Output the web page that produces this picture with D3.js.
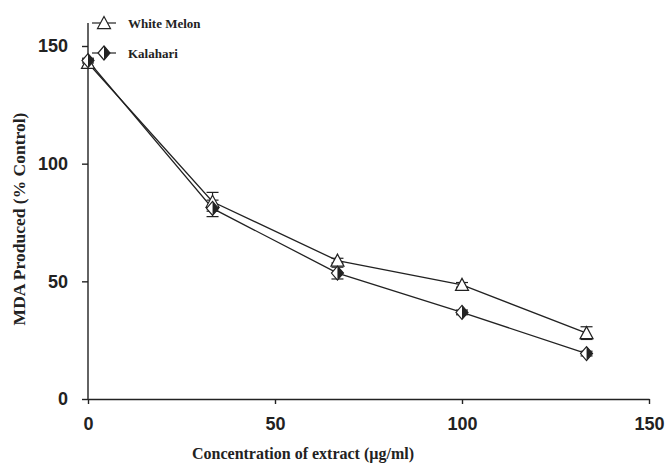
<!DOCTYPE html>
<html>
<head>
<meta charset="utf-8">
<script src="https://cdn.jsdelivr.net/npm/d3@7"></script>
<style>
  body { margin: 0; background: #fff; }
  svg { display: block; }
</style>
</head>
<body>
<div id="chart"></div>
<script>
// MDA produced vs concentration of extract, two melon extracts
const concentrations = [0, 33.3, 66.7, 100, 133.3];
const whiteMelon = [142.8, 83.8, 58.8, 48.5, 28.0];
const whiteMelonErr = [1.5, 4.0, 1.0, 1.0, 2.7];
const kalahari = [143.8, 81.0, 53.5, 36.8, 19.3];
const kalahariErr = [1.0, 3.5, 2.5, 1.0, 1.0];
const xTicks = [0, 50, 100, 150];
const yTicks = [0, 50, 100, 150];
const seriesNames = ["White Melon", "Kalahari"];

const W = 666, H = 465;
const margin = { top: 23, right: 17, bottom: 66, left: 88 };
const width = W - margin.left - margin.right;
const ink = "#222";

const svg = d3.select("#chart").append("svg")
    .attr("width", W)
    .attr("height", H);

const g = svg.append("g")
    .attr("transform", `translate(${margin.left},${margin.top})`);

const x = d3.scaleLinear().domain([0, 150]).range([0, width]);
const y = d3.scaleLinear().domain([0, 150]).range([399 - margin.top, 46 - margin.top]);

// axes
const xAxis = g.append("g")
    .attr("transform", `translate(0,${y(0)})`)
    .call(d3.axisBottom(x).tickValues(xTicks).tickSize(5).tickPadding(13).tickSizeOuter(0));
const yAxis = g.append("g")
    .call(d3.axisLeft(y).tickValues(yTicks).tickSize(6).tickPadding(14).tickSizeOuter(0));

// y axis line runs up to the top of the plot
yAxis.select(".domain").attr("d", `M0,${y(0)}V0`);

[xAxis, yAxis].forEach(a => {
    a.selectAll("path, line").attr("stroke", ink).attr("stroke-width", 1.4);
    a.selectAll("text")
        .attr("fill", ink)
        .style("font-family", "'Liberation Sans', Arial, sans-serif")
        .style("font-weight", "bold")
        .style("font-size", "18px");
});

// axis titles
svg.append("text")
    .attr("x", 303)
    .attr("y", 459)
    .attr("text-anchor", "middle")
    .attr("fill", ink)
    .style("font-family", "'Liberation Serif', 'Times New Roman', serif")
    .style("font-weight", "bold")
    .style("font-size", "16px")
    .text("Concentration of extract (µg/ml)");

svg.append("text")
    .attr("transform", "translate(25,219) rotate(-90)")
    .attr("text-anchor", "middle")
    .attr("fill", ink)
    .style("font-family", "'Liberation Serif', 'Times New Roman', serif")
    .style("font-weight", "bold")
    .style("font-size", "17.5px")
    .text("MDA Produced (% Control)");

// marker helpers
function drawTriangle(sel, cx, cy) {
    const s = 6.5;
    sel.append("path")
        .attr("d", `M${cx},${cy - s}L${cx + s},${cy + s * 0.85}L${cx - s},${cy + s * 0.85}Z`)
        .attr("fill", "#fff")
        .attr("stroke", ink)
        .attr("stroke-width", 1.2);
}
function drawDiamond(sel, cx, cy) {
    const w = 6, h = 7;
    sel.append("path")
        .attr("d", `M${cx},${cy - h}L${cx + w},${cy}L${cx},${cy + h}L${cx - w},${cy}Z`)
        .attr("fill", "#fff")
        .attr("stroke", ink)
        .attr("stroke-width", 1.2);
    sel.append("path")
        .attr("d", `M${cx},${cy - h}L${cx + w},${cy}L${cx},${cy + h}Z`)
        .attr("fill", ink);
}

const series = [
    { name: seriesNames[0], values: whiteMelon, err: whiteMelonErr, marker: drawTriangle },
    { name: seriesNames[1], values: kalahari, err: kalahariErr, marker: drawDiamond }
];

const line = d3.line()
    .x(d => x(d[0]))
    .y(d => y(d[1]));

series.forEach(s => {
    const pts = concentrations.map((c, i) => [c, s.values[i], s.err[i]]);
    g.append("path")
        .datum(pts)
        .attr("fill", "none")
        .attr("stroke", ink)
        .attr("stroke-width", 1.3)
        .attr("d", line);
    // error bars
    pts.forEach(p => {
        const eb = g.append("g").attr("stroke", ink).attr("stroke-width", 1.2);
        eb.append("line").attr("x1", x(p[0])).attr("x2", x(p[0]))
            .attr("y1", y(p[1] - p[2])).attr("y2", y(p[1] + p[2]));
        [p[1] - p[2], p[1] + p[2]].forEach(v => {
            eb.append("line").attr("x1", x(p[0]) - 6).attr("x2", x(p[0]) + 6)
                .attr("y1", y(v)).attr("y2", y(v));
        });
    });
});

series.forEach(s => {
    concentrations.forEach((c, i) => s.marker(g, x(c), y(s.values[i])));
});

// legend
const legendY = [23, 53];
series.forEach((s, i) => {
    const lg = svg.append("g");
    lg.append("line")
        .attr("x1", 92).attr("x2", 116)
        .attr("y1", legendY[i]).attr("y2", legendY[i])
        .attr("stroke", ink).attr("stroke-width", 1.2);
    s.marker(lg, 104, legendY[i]);
    lg.append("text")
        .attr("x", 128)
        .attr("y", legendY[i] + 4.5)
        .attr("fill", ink)
        .style("font-family", "'Liberation Serif', 'Times New Roman', serif")
        .style("font-weight", "bold")
        .style("font-size", "13px")
        .text(s.name);
});
</script>
</body>
</html>
